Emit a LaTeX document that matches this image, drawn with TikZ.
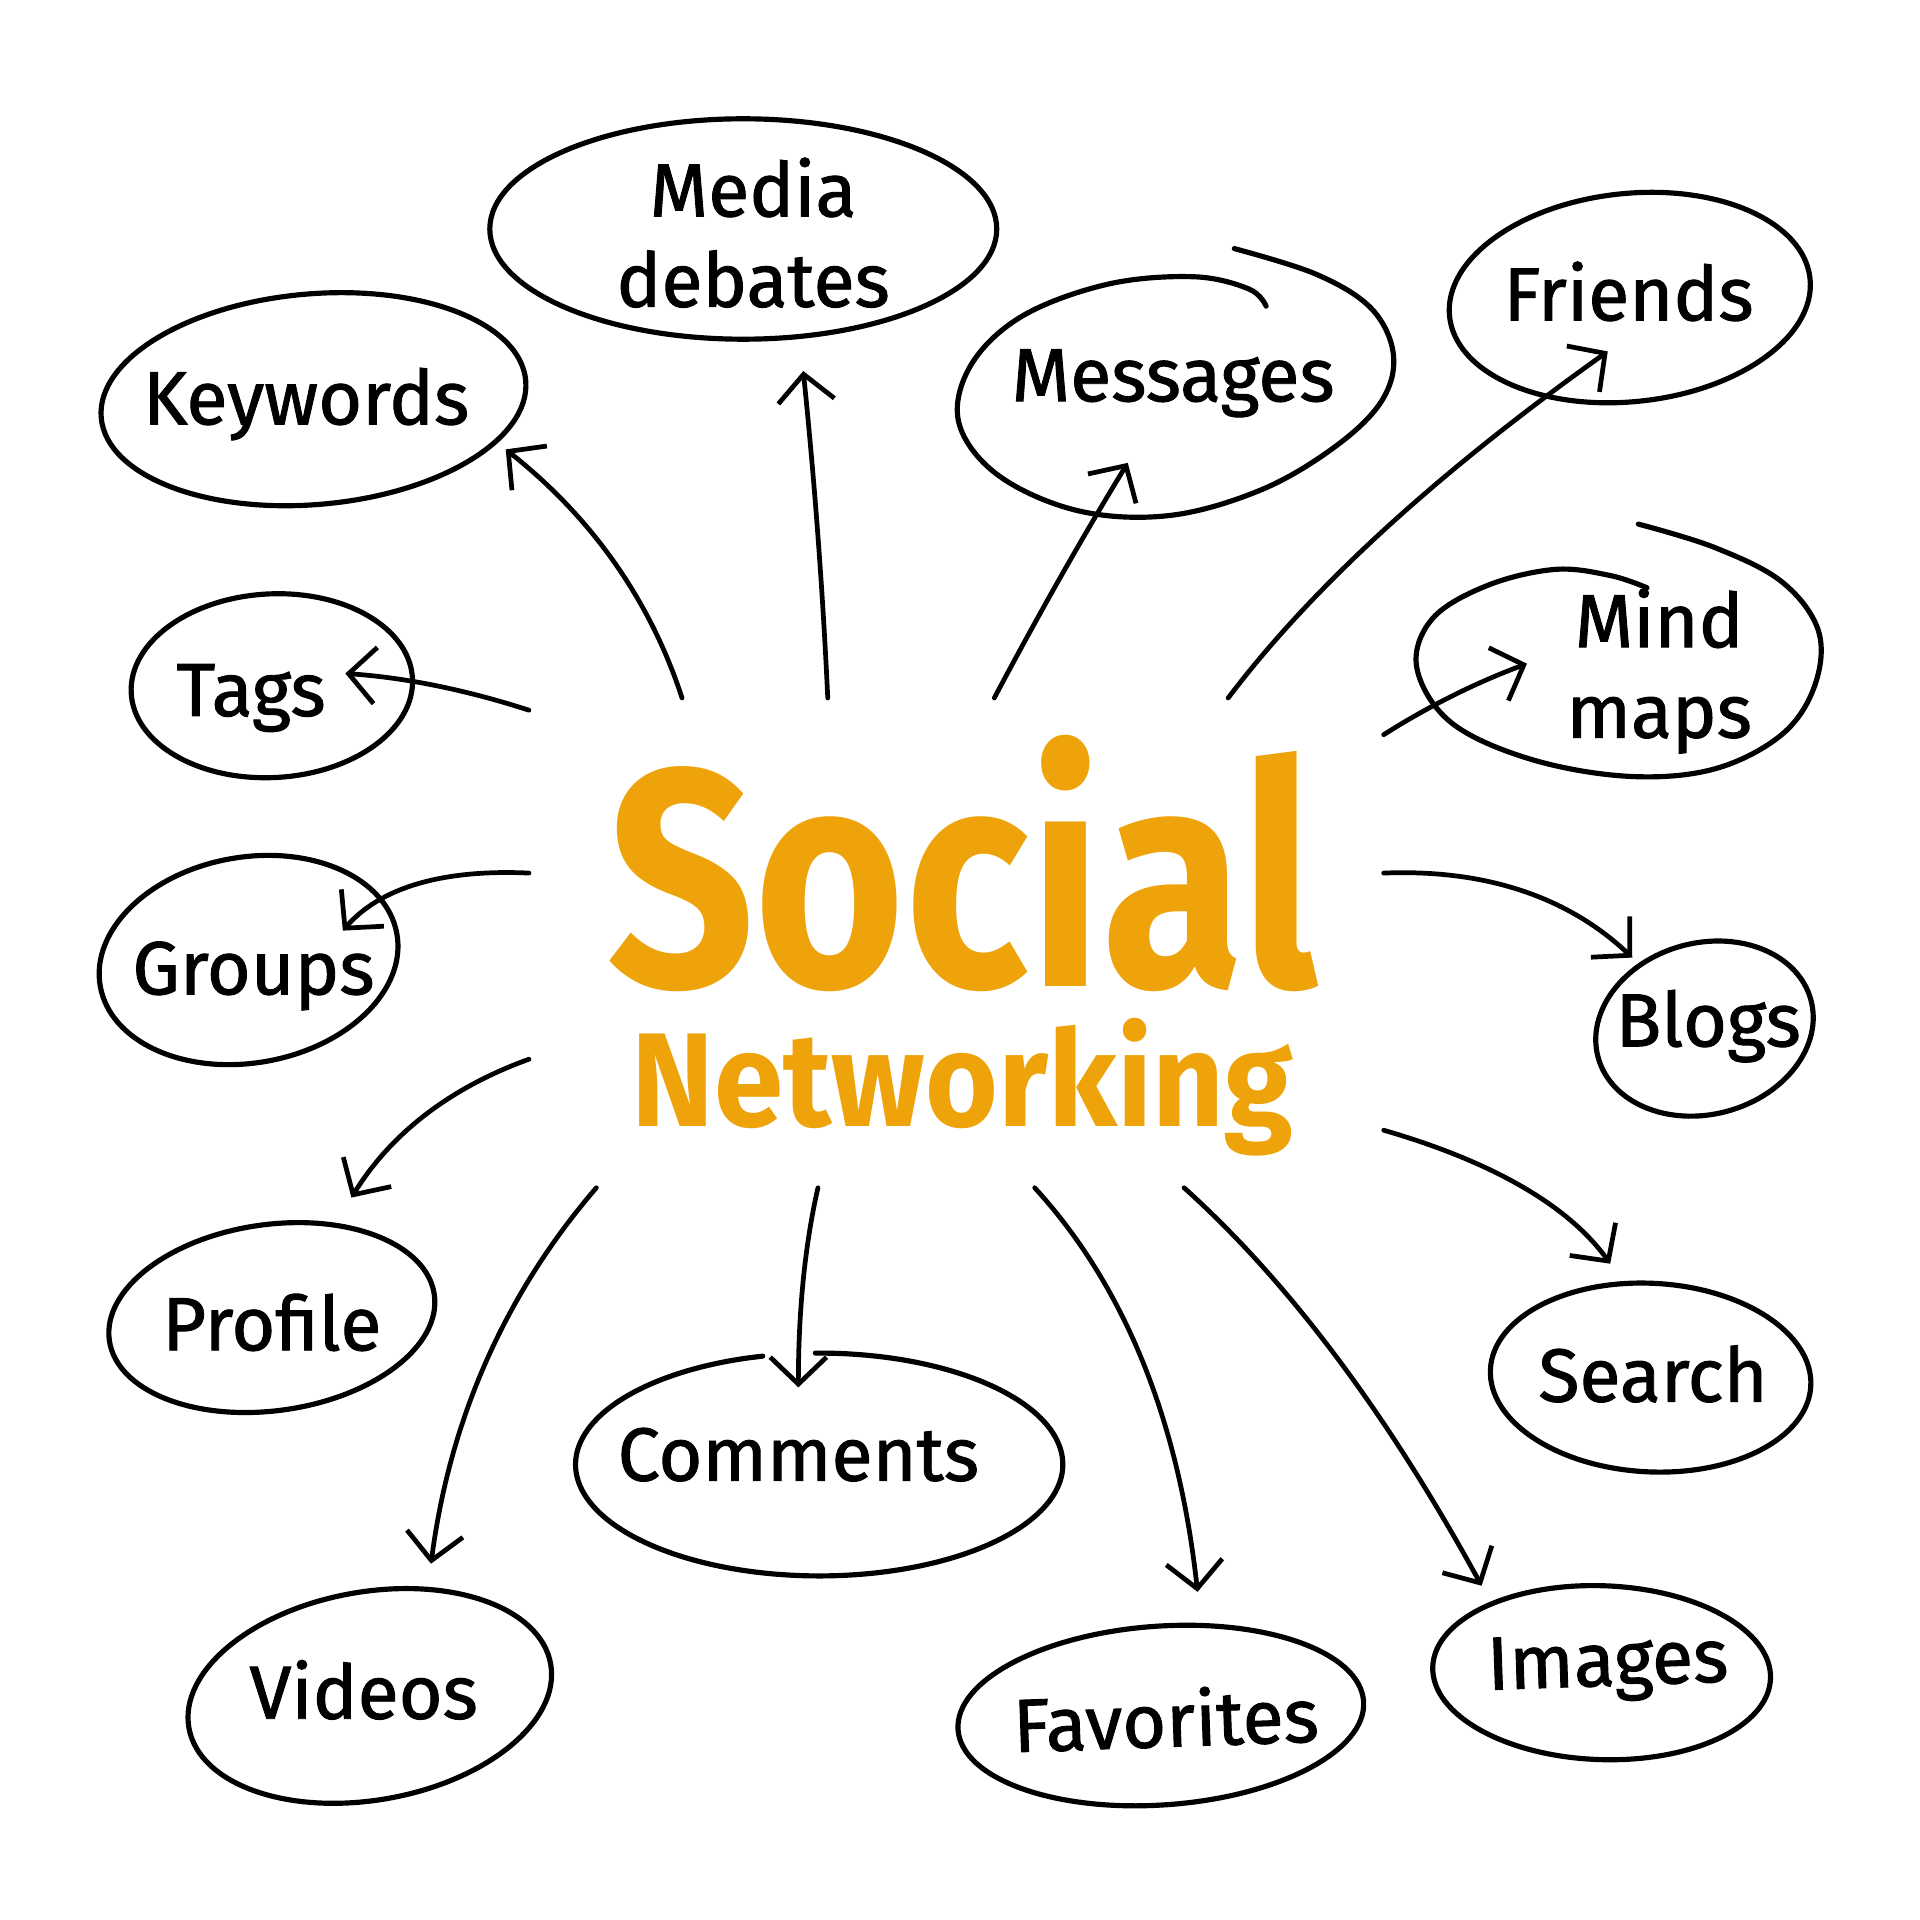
\documentclass[tikz,border=0pt]{standalone}
\usepackage{fontspec}
\setmainfont{Fira Sans}
\newfontfamily\lblfont{Fira Sans}[FakeBold=1.2]
\usetikzlibrary{arrows.meta,calc}
\definecolor{sorange}{RGB}{239,163,10}
\begin{document}
\begin{tikzpicture}[x=0.1mm,y=-0.1mm,
  lbl/.style={font=\lblfont\fontsize{17.5}{21}\selectfont, align=center, inner sep=0pt},
  oval/.style={line width=1.2pt, line cap=round},
  arr/.style={line width=1.1pt, line cap=round, -{Straight Barb[length=2.2mm,width=4.6mm,line width=1.1pt]}},
  big/.style={text=sorange, font=\bfseries, anchor=base, inner sep=0pt, transform shape}]
\useasboundingbox[fill=white] (0,0) rectangle (1568,1568);

% centre
\node[big, yscale=1.2, font=\fontsize{60}{70}\bfseries] (soc) at (786,806) {Social};
\node[big, yscale=1.07, font=\fontsize{29}{34}\bfseries] (net) at (786,920) {Networking};

% labels
\node[lbl] (kw) at (250,330) {Keywords};
\node[lbl] (md) at (615,190) {Media\\debates};
\node[lbl] (ms) at (958,313) {Messages};
\node[lbl] (fr) at (1330,238) {Friends};
\node[lbl] (mm) at (1355,548) {Mind\\maps};
\node[lbl] (tg) at (205,570) {Tags};
\node[lbl] (gr) at (207,797) {Groups};
\node[lbl] (bl) at (1395,838) {Blogs};
\node[lbl] (pr) at (222,1080) {Profile};
\node[lbl] (se) at (1350,1122) {Search};
\node[lbl] (cm) at (652,1188) {Comments};
\node[lbl] (vd) at (297,1380) {Videos};
\node[lbl, rotate=2] (fv) at (952,1403) {Favorites};
\node[lbl, rotate=2] (im) at (1313,1362) {Images};

% ovals
\draw[oval] ([shift={(6,-4)}]kw.center) circle[x radius=17.4mm, y radius=8.6mm, rotate=5];
\draw[oval] ([shift={(-8,-3)}]md.center) circle[x radius=20.7mm, y radius=9.0mm, rotate=0];
\draw[oval] ([shift={(1,5)}]fr.center) circle[x radius=14.8mm, y radius=8.5mm, rotate=6];
\draw[oval] ([shift={(17,-10)}]tg.center) circle[x radius=11.5mm, y radius=7.5mm, rotate=3];
\draw[oval] ([shift={(-4,-13)}]gr.center) circle[x radius=12.3mm, y radius=8.4mm, rotate=10];
\draw[oval] ([shift={(-3,2)}]bl.center) circle[x radius=9.0mm, y radius=7.0mm, rotate=15];
\draw[oval] ([shift={(0,-4)}]pr.center) circle[x radius=13.4mm, y radius=7.6mm, rotate=8];
\draw[oval] ([shift={(-2,3)}]se.center) circle[x radius=13.1mm, y radius=7.7mm, rotate=-3];
\draw[oval, shift={($(cm.center)+(17,8)$)}] plot[domain=-90.9:256.6, samples=90, smooth] ({199*cos(\x)},{91*sin(\x)});
\draw[oval] ([shift={(5,5)}]vd.center) circle[x radius=15.0mm, y radius=8.5mm, rotate=10];
\draw[oval] ([shift={(-4,-2)}]fv.center) circle[x radius=16.6mm, y radius=7.3mm, rotate=4];
\draw[oval] ([shift={(-5,4)}]im.center) circle[x radius=13.8mm, y radius=7.1mm, rotate=-2];
\draw[oval] plot[smooth, tension=0.6] coordinates {(1008,203) (1075,224) (1120,252) (1138,290) (1128,328) (1090,365) (1030,400) (955,421) (880,417) (815,388) (783,345) (793,298) (835,258) (905,232) (975,226) (1020,236) (1034,250)};
\draw[oval] plot[smooth, tension=0.6] coordinates {(1338,428) (1400,447) (1455,475) (1485,515) (1482,560) (1455,600) (1400,628) (1330,634) (1250,620) (1185,590) (1157,545) (1170,505) (1215,478) (1270,465) (1315,470) (1345,480)};

% arrow ends
\coordinate (s1) at (557,570);  \coordinate (e1) at (413,367);
\coordinate (s2) at (676,570);  \coordinate (e2) at (656,303);
\coordinate (s3) at (812,570);  \coordinate (e3) at (921,378);
\coordinate (s4) at (1003,570); \coordinate (e4) at (1313,287);
\coordinate (s5) at (1130,600); \coordinate (e5) at (1247,542);
\coordinate (s6) at (1130,713); \coordinate (e6) at (1333,782);
\coordinate (s7) at (1130,923); \coordinate (e7) at (1315,1032);
\coordinate (s8) at (967,970);  \coordinate (e8) at (1210,1295);
\coordinate (s9) at (845,970);  \coordinate (e9) at (978,1300);
\coordinate (s10) at (668,970); \coordinate (e10) at (652,1133);
\coordinate (s11) at (487,970); \coordinate (e11) at (352,1277);
\coordinate (s12) at (432,865); \coordinate (e12) at (287,978);
\coordinate (s13) at (432,713); \coordinate (e13) at (280,760);
\coordinate (s14) at (432,580); \coordinate (e14) at (282,550);

\newcommand\qarrow[3]{\draw[arr] (#1) .. controls ($(#1)!0.667!(#3)$) and ($(#2)!0.667!(#3)$) .. (#2);}
\qarrow{s1}{e1}{518,450}
\qarrow{s2}{e2}{670,440}
\qarrow{s3}{e3}{866,468}
\qarrow{s4}{e4}{1105,435}
\qarrow{s5}{e5}{1185,565}
\qarrow{s6}{e6}{1255,708}
\qarrow{s7}{e7}{1265,962}
\qarrow{s8}{e8}{1095,1085}
\qarrow{s9}{e9}{955,1090}
\qarrow{s10}{e10}{652,1040}
\qarrow{s11}{e11}{375,1100}
\qarrow{s12}{e12}{335,900}
\qarrow{s13}{e13}{325,708}
\qarrow{s14}{e14}{355,555}
\end{tikzpicture}
\end{document}
